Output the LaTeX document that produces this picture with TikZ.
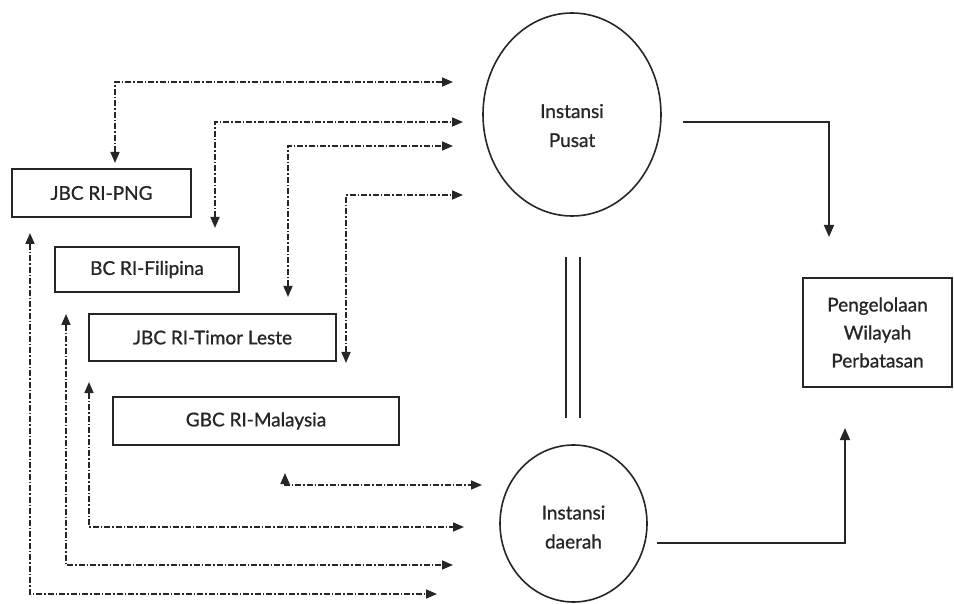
\documentclass[tikz,border=0pt]{standalone}
\usepackage{fontspec}
\setmainfont{Lato}[FakeBold=0.9]
\usetikzlibrary{arrows.meta,shapes.geometric}
\tikzset{
  boxnode/.style={draw=black!85, line width=1.8pt, rectangle, inner sep=0pt, align=center,
    font=\fontsize{19}{28}\selectfont, text=black!85},
  ellnode/.style={draw=black!85, line width=1.6pt, ellipse, inner sep=0pt, align=center,
    font=\fontsize{19}{29}\selectfont, text=black!85},
  ddline/.style={draw=black!85, line width=1.6pt, dash pattern=on 6pt off 2pt on 1.5pt off 2pt,
    {Triangle[length=11pt,width=9pt]}-{Triangle[length=11pt,width=9pt]}},
  solidarrow/.style={draw=black!85, line width=1.7pt, -{Triangle[length=12pt,width=10pt]}},
  pairline/.style={draw=black!85, line width=1.6pt}
}
\begin{document}
\begin{tikzpicture}[x=1pt,y=-1pt]
\useasboundingbox[fill=white] (0,0) rectangle (954,604);

% boxes
\node[boxnode, minimum width=179pt, minimum height=48pt] (png) at (101.5,193) {JBC RI-PNG};
\node[boxnode, minimum width=184pt, minimum height=45pt] (fil) at (147,269.5) {BC RI-Filipina};
\node[boxnode, minimum width=247pt, minimum height=47pt] (tim) at (212.5,337.5) {JBC RI-Timor Leste};
\node[boxnode, minimum width=286pt, minimum height=48pt] (mal) at (256,421) {GBC RI-Malaysia};
\node[boxnode, minimum width=149pt, minimum height=109pt] (peng) at (877.5,332.5) {Pengelolaan\\Wilayah\\Perbatasan};

% circles
\node[ellnode, minimum width=178pt, minimum height=203pt] (pusat) at (572,114.5) {\rule{0pt}{36pt}Instansi\\Pusat};
\node[ellnode, minimum width=147pt, minimum height=157pt] (daerah) at (573.5,523.5) {\rule{0pt}{21pt}Instansi\\daerah};

% connector end points
\coordinate (a1) at (115,163);  \coordinate (b1) at (453,82);
\coordinate (a2) at (215,228);  \coordinate (b2) at (463,122);
\coordinate (a3) at (288,297);  \coordinate (b3) at (453,146);
\coordinate (a4) at (346,363);  \coordinate (b4) at (463,195);
\coordinate (a5) at (285,473);  \coordinate (b5) at (482,485);
\coordinate (a6) at (89,382);   \coordinate (b6) at (464,527);
\coordinate (a7) at (66,314);   \coordinate (b7) at (453,565);
\coordinate (a8) at (30,233);   \coordinate (b8) at (437,594);

% dash-dot connectors to Instansi Pusat
\draw[ddline] (a1) |- (b1);
\draw[ddline] (a2) |- (b2);
\draw[ddline] (a3) |- (b3);
\draw[ddline] (a4) |- (b4);
% dash-dot connectors to Instansi daerah
\draw[ddline] (a5) |- (b5);
\draw[ddline] (a6) |- (b6);
\draw[ddline] (a7) |- (b7);
\draw[ddline] (a8) |- (b8);

% link between Pusat and daerah
\coordinate (l1) at (566,257); \coordinate (l2) at (566,418);
\coordinate (r1) at (580,257); \coordinate (r2) at (580,418);
\draw[pairline] (l1) -- (l2);
\draw[pairline] (r1) -- (r2);

% solid arrows to Pengelolaan
\coordinate (s1) at (683,122); \coordinate (t1) at (829,237);
\coordinate (s2) at (657,543); \coordinate (t2) at (845,428);
\draw[solidarrow] (s1) -| (t1);
\draw[solidarrow] (s2) -| (t2);
\end{tikzpicture}
\end{document}
